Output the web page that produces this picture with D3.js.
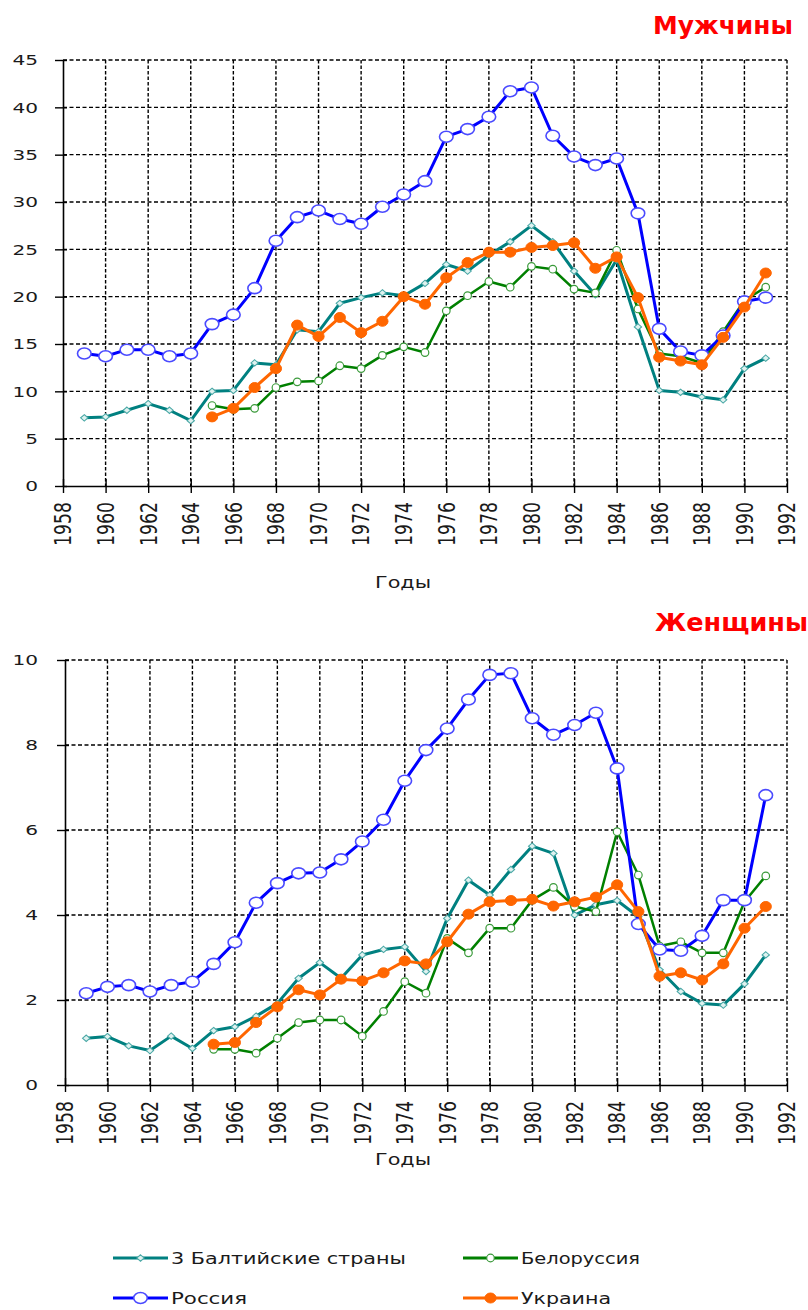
<!DOCTYPE html>
<html>
<head>
<meta charset="utf-8">
<script src="https://cdn.jsdelivr.net/npm/d3@7"></script>
<style>
  body { margin: 0; background: #fff; }
  svg { display: block; }
  text { font-family: "DejaVu Sans", Verdana, sans-serif; }
</style>
</head>
<body>
<svg id="chart" width="808" height="1310"></svg>
<script>
// years of observation and axis ticks
const years = [1959, 1960, 1961, 1962, 1963, 1964, 1965, 1966, 1967, 1968, 1969, 1970,
  1971, 1972, 1973, 1974, 1975, 1976, 1977, 1978, 1979, 1980, 1981, 1982, 1983, 1984,
  1985, 1986, 1987, 1988, 1989, 1990, 1991];
const yearTicks = [1958, 1960, 1962, 1964, 1966, 1968, 1970, 1972, 1974, 1976, 1978,
  1980, 1982, 1984, 1986, 1988, 1990, 1992];
const menTicks = [0, 5, 10, 15, 20, 25, 30, 35, 40, 45];
const womenTicks = [0, 2, 4, 6, 8, 10];

const seriesNames = ["3 Балтийские страны", "Белоруссия", "Россия", "Украина"];

// men (1959..1991, null = no data)
const menBaltic = [7.2, 7.3, 8.0, 8.7, 8.0, 6.9, 10.0, 10.1, 13.0, 12.8, 16.5, 16.3, 19.3,
  19.9, 20.4, 20.1, 21.4, 23.4, 22.7, 24.4, 25.8, 27.5, 25.8, 22.7, 20.2, 23.9, 16.8, 10.1,
  9.9, 9.4, 9.1, 12.4, 13.5];
const menBelarus = [null, null, null, null, null, null, 8.5, 8.1, 8.2, 10.4, 11.0, 11.1, 12.7,
  12.4, 13.8, 14.7, 14.1, 18.5, 20.1, 21.6, 21.0, 23.2, 22.9, 20.8, 20.4, 24.9, 18.7, 14.0,
  13.7, 13.0, 16.3, 19.6, 21.0];
const menRussia = [14.0, 13.7, 14.4, 14.4, 13.7, 14.0, 17.1, 18.1, 20.9, 25.9, 28.4, 29.1,
  28.2, 27.7, 29.5, 30.8, 32.2, 36.9, 37.7, 39.0, 41.7, 42.1, 37.0, 34.8, 33.9, 34.6, 28.8,
  16.6, 14.2, 13.8, 15.9, 19.5, 19.9];
const menUkraine = [null, null, null, null, null, null, 7.3, 8.2, 10.4, 12.4, 17.0, 15.8, 17.8,
  16.2, 17.4, 20.0, 19.2, 22.0, 23.6, 24.7, 24.7, 25.2, 25.4, 25.7, 23.0, 24.2, 19.9, 13.6,
  13.2, 12.8, 15.7, 18.9, 22.5];

// women
const womenBaltic = [1.10, 1.14, 0.92, 0.81, 1.15, 0.86, 1.28, 1.37, 1.62, 1.92, 2.51, 2.88,
  2.51, 3.06, 3.19, 3.25, 2.67, 3.92, 4.82, 4.47, 5.07, 5.62, 5.45, 4.00, 4.24, 4.34, 3.96,
  2.71, 2.20, 1.92, 1.88, 2.38, 3.06];
const womenBelarus = [null, null, null, null, null, null, 0.84, 0.84, 0.75, 1.10, 1.47, 1.53,
  1.53, 1.15, 1.73, 2.43, 2.16, 3.45, 3.11, 3.69, 3.69, 4.35, 4.65, 4.20, 4.08, 5.96, 4.94,
  3.27, 3.37, 3.11, 3.11, 4.31, 4.92];
const womenRussia = [2.16, 2.31, 2.35, 2.20, 2.35, 2.43, 2.85, 3.36, 4.29, 4.75, 4.98, 5.00,
  5.31, 5.73, 6.24, 7.16, 7.88, 8.39, 9.07, 9.65, 9.69, 8.63, 8.24, 8.47, 8.76, 7.45, 3.79,
  3.19, 3.16, 3.51, 4.35, 4.35, 6.82];
const womenUkraine = [null, null, null, null, null, null, 0.96, 1.00, 1.47, 1.84, 2.24, 2.12,
  2.49, 2.45, 2.64, 2.92, 2.85, 3.37, 4.02, 4.31, 4.34, 4.37, 4.21, 4.31, 4.42, 4.71, 4.08,
  2.56, 2.64, 2.47, 2.85, 3.69, 4.20];

const styles = [
  { color: "#008080", width: 3, marker: "diamond" },
  { color: "#008000", width: 2.5, marker: "small" },
  { color: "#0000ff", width: 3, marker: "big" },
  { color: "#ff6600", width: 3, marker: "filled" }
];

const svg = d3.select("#chart");
const ink = "#1a1a1a";

function stretch(sel, w) {
  sel.attr("textLength", w).attr("lengthAdjust", "spacingAndGlyphs");
}

function drawMarker(g, type, color, cx, cy) {
  if (type === "diamond") {
    g.append("path")
      .attr("d", d3.symbol(d3.symbolDiamond2, 26)())
      .attr("transform", `translate(${cx},${cy}) scale(1.15,1)`)
      .attr("fill", "#dff2f0").attr("stroke", "#4aa8a6").attr("stroke-width", 1);
  } else if (type === "small") {
    g.append("circle").attr("cx", cx).attr("cy", cy).attr("r", 3.8)
      .attr("fill", "#fff").attr("stroke", "#3a9a3a").attr("stroke-width", 1.2);
  } else if (type === "big") {
    g.append("ellipse").attr("cx", cx).attr("cy", cy).attr("rx", 6.8).attr("ry", 5.5)
      .attr("fill", "#fff").attr("stroke", "#4a4aff").attr("stroke-width", 1.6);
  } else {
    g.append("ellipse").attr("cx", cx).attr("cy", cy).attr("rx", 5.6).attr("ry", 5)
      .attr("fill", color).attr("stroke", color).attr("stroke-width", 1);
  }
}

function drawPanel(p) {
  const x = d3.scaleLinear().domain([1958, 1992]).range([p.left, 787]);
  const y = d3.scaleLinear().domain([0, p.yMax]).range([p.bottom, p.top]);
  const g = svg.append("g");

  // dashed grid
  g.append("g").selectAll("line").data(p.yTicks.filter(d => d > 0)).join("line")
    .attr("x1", p.left).attr("x2", x(1992))
    .attr("y1", d => y(d)).attr("y2", d => y(d))
    .attr("stroke", "#000").attr("stroke-width", 1.4).attr("stroke-dasharray", "4,2.5");
  g.append("g").selectAll("line").data(yearTicks.filter(d => d > 1958)).join("line")
    .attr("x1", d => x(d)).attr("x2", d => x(d))
    .attr("y1", y(p.yMax)).attr("y2", y(0))
    .attr("stroke", "#000").attr("stroke-width", 1.4).attr("stroke-dasharray", "3.5,2");

  // y axis
  const ya = g.append("g").attr("transform", `translate(${p.left},0)`)
    .call(d3.axisLeft(y).tickValues(p.yTicks).tickSizeInner(8).tickSizeOuter(0));
  ya.select(".domain").attr("stroke", "#000").attr("stroke-width", 1.6);
  ya.selectAll(".tick line").attr("x1", 4).attr("stroke", "#000").attr("stroke-width", 1.4);
  ya.selectAll(".tick text")
    .attr("x", 38 - p.left).attr("dy", "0.35em")
    .attr("text-anchor", "end").attr("font-size", 14).attr("fill", ink)
    .attr("font-family", "DejaVu Sans")
    .each(function () { stretch(d3.select(this), 12.8 * this.textContent.length); });

  // x axis
  const xa = g.append("g").attr("transform", `translate(0,${p.bottom})`)
    .call(d3.axisBottom(x).tickValues(yearTicks).tickFormat(d3.format("d"))
      .tickSizeInner(7).tickSizeOuter(0));
  xa.select(".domain").attr("stroke", "#000").attr("stroke-width", 1.6);
  xa.selectAll(".tick line").attr("y1", -7).attr("stroke", "#000").attr("stroke-width", 1.4);
  xa.selectAll(".tick text")
    .attr("x", 0).attr("y", 0).attr("dy", "0.35em")
    .attr("transform", "translate(0,16) scale(1.4,1) rotate(-90)")
    .attr("text-anchor", "end").attr("font-size", 16).attr("fill", ink)
    .attr("font-family", "DejaVu Sans")
    .call(stretch, 44);

  // axis title and panel title
  g.append("text").attr("x", 403).attr("y", p.xTitleY).attr("text-anchor", "middle")
    .attr("font-size", 16).attr("fill", ink).text("Годы").call(stretch, 56);
  g.append("text").attr("x", p.titleX).attr("y", p.titleY)
    .attr("font-size", 24).attr("font-weight", "bold").attr("fill", "#ff0000")
    .text(p.title).call(stretch, p.titleW);

  // series
  const line = d3.line().defined(d => d.v != null).x(d => x(d.year)).y(d => y(d.v));
  p.series.forEach((vals, i) => {
    const st = styles[i];
    const pts = years.map((yr, k) => ({ year: yr, v: vals[k] }));
    const sg = g.append("g");
    sg.append("path").datum(pts).attr("d", line)
      .attr("fill", "none").attr("stroke", st.color).attr("stroke-width", st.width)
      .attr("stroke-linejoin", "round");
    pts.filter(d => d.v != null).forEach(d => drawMarker(sg, st.marker, st.color, x(d.year), y(d.v)));
  });
}

drawPanel({
  left: 63, top: 60, bottom: 486, yMax: 45, yTicks: menTicks,
  xTitleY: 588, title: "Мужчины", titleX: 653, titleY: 34, titleW: 140,
  series: [menBaltic, menBelarus, menRussia, menUkraine]
});
drawPanel({
  left: 65, top: 660, bottom: 1085, yMax: 10, yTicks: womenTicks,
  xTitleY: 1165, title: "Женщины", titleX: 655, titleY: 631, titleW: 153,
  series: [womenBaltic, womenBelarus, womenRussia, womenUkraine]
});

// legend
const legendPos = [
  { x: 113, y: 1258, w: 235 },
  { x: 463, y: 1258, w: 119 },
  { x: 113, y: 1298, w: 76 },
  { x: 463, y: 1298, w: 90 }
];
const lg = svg.append("g");
seriesNames.forEach((name, i) => {
  const p = legendPos[i], st = styles[i];
  lg.append("line").attr("x1", p.x).attr("x2", p.x + 55).attr("y1", p.y).attr("y2", p.y)
    .attr("stroke", st.color).attr("stroke-width", 3);
  drawMarker(lg, st.marker, st.color, p.x + 27.5, p.y);
  lg.append("text").attr("x", p.x + 58).attr("y", p.y + 6)
    .attr("font-size", 16).attr("fill", ink).text(name).call(stretch, p.w);
});
</script>
</body>
</html>
